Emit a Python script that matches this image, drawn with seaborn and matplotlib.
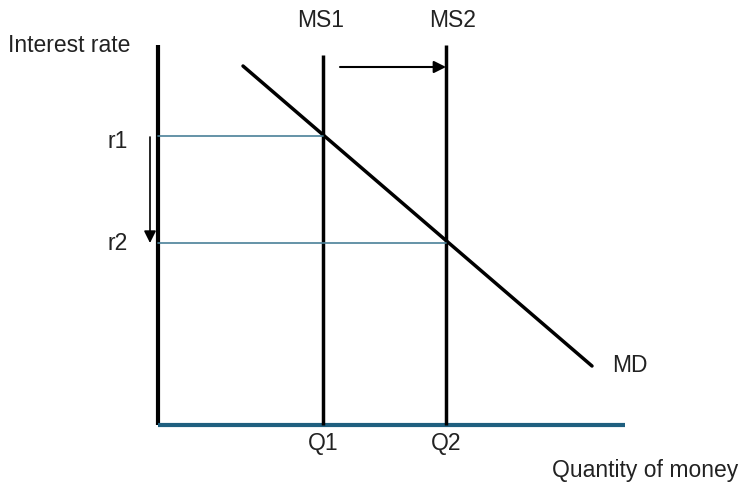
import matplotlib
matplotlib.use('Agg')
import matplotlib.pyplot as plt
import seaborn as sns
import pandas as pd

# Positions sur le diagramme (unités arbitraires, origine au coin des axes)
q_labels = ['Q1', 'Q2']
q_values = [165, 288]
r_labels = ['r1', 'r2']
r_values = [289, 182]
ms_labels = ['MS1', 'MS2']
ms_tops = [370, 380]
md_q = [85, 434]
md_r = [359, 59]
x_axis_end = 467
y_axis_top = 380

sns.set_style("white")
plt.rcParams['font.family'] = ['Liberation Sans', 'DejaVu Sans']

fig = plt.figure(figsize=(7.4, 4.86), dpi=100)
ax = fig.add_axes([0, 0, 1, 1])
ax.set_xlim(-158, 582)
ax.set_ylim(-61, 425)
ax.axis('off')

txt = dict(fontsize=16.5, color='#222222')

# Axes
ax.plot([0, 0], [0, y_axis_top], color='black', lw=3, solid_capstyle='butt')
ax.plot([0, x_axis_end], [0, 0], color='#1f5f7f', lw=3, solid_capstyle='butt')

# Demande de monnaie
md = pd.DataFrame({'q': md_q, 'r': md_r})
sns.lineplot(data=md, x='q', y='r', color='black', lw=2.5, ax=ax)
ax.text(md_q[1] + 20, md_r[1], 'MD', ha='left', va='center', **txt)

# Offre de monnaie
for q, top, lab in zip(q_values, ms_tops, ms_labels):
    ax.plot([q, q], [0, top], color='black', lw=2.5, solid_capstyle='butt')
    ax.text(q + (-2 if lab == 'MS1' else 7), 398, lab, ha='center', va='baseline', **txt)

for q, lab in zip(q_values, q_labels):
    ax.text(q, -7, lab, ha='center', va='top', **txt)

# Taux d'intérêt
for q, r, lab in zip(q_values, r_values, r_labels):
    ax.plot([0, q], [r, r], color='#4a8098', lw=1.2)
    ax.text(-30, r - (6 if lab == 'r1' else 1), lab, ha='right', va='center', **txt)

ax.annotate('', xy=(q_values[1], 358), xytext=(q_values[0] + 17, 358),
            arrowprops=dict(arrowstyle='-|>', color='black', lw=1.5,
                            mutation_scale=18, shrinkA=0, shrinkB=0))
ax.annotate('', xy=(-8, r_values[1]), xytext=(-8, r_values[0] - 1),
            arrowprops=dict(arrowstyle='-|>', color='black', lw=1.2,
                            mutation_scale=18, shrinkA=0, shrinkB=0))

ax.text(-150, 380, 'Interest rate', ha='left', va='center', **txt)
ax.text(580, -45, 'Quantity of money', ha='right', va='center', **txt)

fig.savefig('out.png', dpi=100)
